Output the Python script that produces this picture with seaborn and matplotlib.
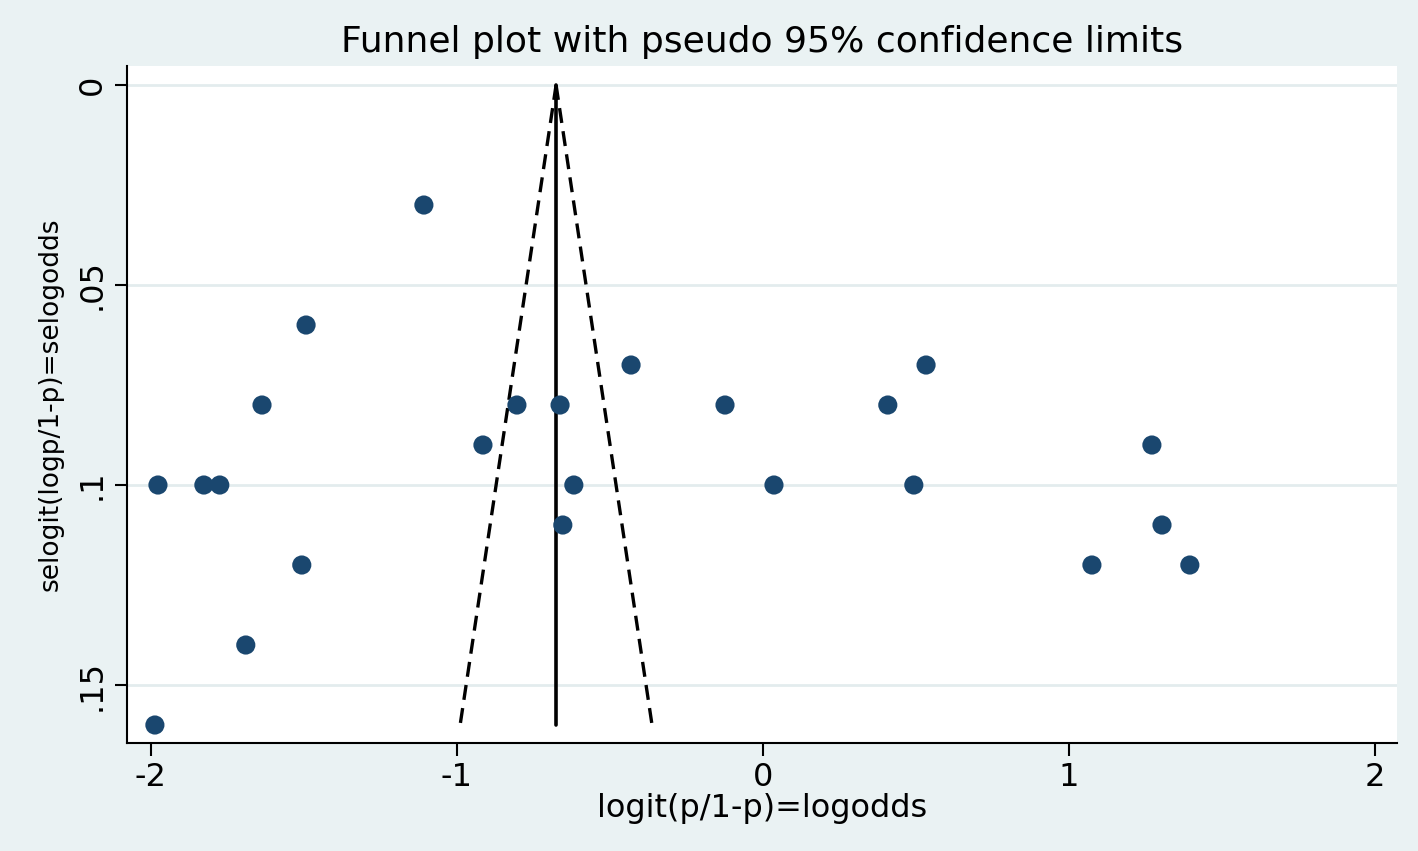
import numpy as np
import pandas as pd
import matplotlib
matplotlib.use("Agg")
import matplotlib.pyplot as plt
import seaborn as sns

# study estimates
logodds = [-1.108, -1.493, -1.637, -0.804, -0.663, -0.431, -0.124, 0.408, 0.533,
           -0.915, 1.271, -1.977, -1.827, -1.775, -0.618, 0.036, 0.493,
           -0.654, 1.304, -1.507, 1.075, 1.395, -1.690, -1.987]
selogodds = [0.03, 0.06, 0.08, 0.08, 0.08, 0.07, 0.08, 0.08, 0.07,
             0.09, 0.09, 0.10, 0.10, 0.10, 0.10, 0.10, 0.10,
             0.11, 0.11, 0.12, 0.12, 0.12, 0.14, 0.16]
pooled = -0.676
se_max = 0.16

x_ticks = [-2, -1, 0, 1, 2]
y_ticks = [0, 0.05, 0.1, 0.15]
y_ticklabels = ["0", ".05", ".1", ".15"]

df = pd.DataFrame({"logodds": logodds, "selogodds": selogodds})
se_line = np.array([0, se_max])
ci = pd.DataFrame({
    "se": np.concatenate([se_line, se_line]),
    "x": np.concatenate([pooled - 1.96 * se_line, pooled + 1.96 * se_line]),
    "side": ["lo", "lo", "hi", "hi"],
})

sns.set_style("white")
plt.rcParams["font.family"] = ["DejaVu Sans"]
plt.rcParams["axes.unicode_minus"] = False
plt.rcParams["text.color"] = "black"
plt.rcParams["axes.labelcolor"] = "black"
plt.rcParams["xtick.color"] = "black"
plt.rcParams["ytick.color"] = "black"

bg = "#eaf2f3"
fig = plt.figure(figsize=(14.18, 8.51), dpi=100, facecolor=bg)
ax = fig.add_axes([0.0896, 0.1269, 0.8956, 0.7955])
ax.set_facecolor("white")

for y in y_ticks:
    ax.axhline(y, color="#e3ecee", lw=2, zorder=0)

for side, g in ci.groupby("side"):
    sns.lineplot(data=g, x="x", y="se", ax=ax, color="black", lw=2.4,
                 linestyle=(0, (4.5, 2.5)), sort=False, estimator=None)
ax.plot([pooled, pooled], [0, se_max], color="black", lw=2.6)

sns.scatterplot(data=df, x="logodds", y="selogodds", ax=ax, s=190,
                color="#1a476f", edgecolor="none", zorder=3)

ax.set_xlim(-2.078, 2.072)
ax.set_ylim(0.1645, -0.00475)
ax.set_xticks(x_ticks)
ax.set_xticklabels([str(t) for t in x_ticks])
ax.set_yticks(y_ticks)
ax.set_yticklabels(y_ticklabels, rotation=90, va="center")

for s in ["top", "right"]:
    ax.spines[s].set_visible(False)
for s in ["left", "bottom"]:
    ax.spines[s].set_color("black")
    ax.spines[s].set_linewidth(1.5)

ax.tick_params(axis="both", direction="out", length=9, width=1.5,
               color="black", labelsize=23, pad=5, bottom=True, left=True)

ax.set_xlabel("logit(p/1-p)=logodds", fontsize=23, labelpad=0)
ax.set_ylabel("selogit(logp/1-p)=selogodds", fontsize=19, labelpad=9)
ax.set_title("Funnel plot with pseudo 95% confidence limits", fontsize=26, pad=10)

fig.savefig("out.png", dpi=100, facecolor=bg)
